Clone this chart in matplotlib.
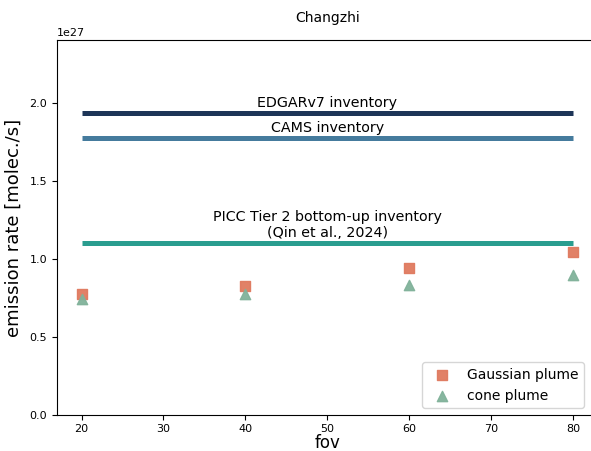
import matplotlib.pyplot as plt

# data
fov = [20, 40, 60, 80]
gaussian = [0.773e27, 0.824e27, 0.939e27, 1.042e27]
cone = [0.741e27, 0.773e27, 0.831e27, 0.895e27]

inv_names = ["EDGARv7 inventory", "CAMS inventory",
             "PICC Tier 2 bottom-up inventory\n(Qin et al., 2024)"]
inv_values = [1.93e27, 1.77e27, 1.10e27]
inv_colors = ["#1d3557", "#457b9d", "#2a9d8f"]

fig = plt.figure(figsize=(5.91, 4.51), dpi=100)
ax = fig.add_axes([0.0964, 0.0798, 0.915, 0.8315])

# inventory lines with labels
for name, val, col in zip(inv_names, inv_values, inv_colors):
    ax.plot([fov[0], fov[-1]], [val, val], color=col, lw=3.6, solid_capstyle="butt")
    ax.text(50, val + 0.02e27, name, ha="center", va="bottom", fontsize=10.3)

ax.scatter(fov, gaussian, marker="s", s=55, color="#e07a5f", alpha=0.95, label="Gaussian plume", zorder=3)
ax.scatter(fov, cone, marker="^", s=55, color="#81b29a", alpha=0.95, label="cone plume", zorder=3)

ax.set_xlim(17, 83)
ax.set_ylim(0, 2.4e27)
ax.set_title("Changzhi", fontsize=10, pad=13)
ax.set_xlabel("fov", fontsize=12, labelpad=0)
ax.set_ylabel("emission rate [molec./s]", fontsize=13, labelpad=5)
ax.tick_params(labelsize=8)
ax.tick_params(axis="x", pad=3)
ax.yaxis.get_offset_text().set_fontsize(8)
ax.legend(loc="lower right", fontsize=10, bbox_to_anchor=(0.987, 0.0))

fig.savefig("out.png", dpi=100)
